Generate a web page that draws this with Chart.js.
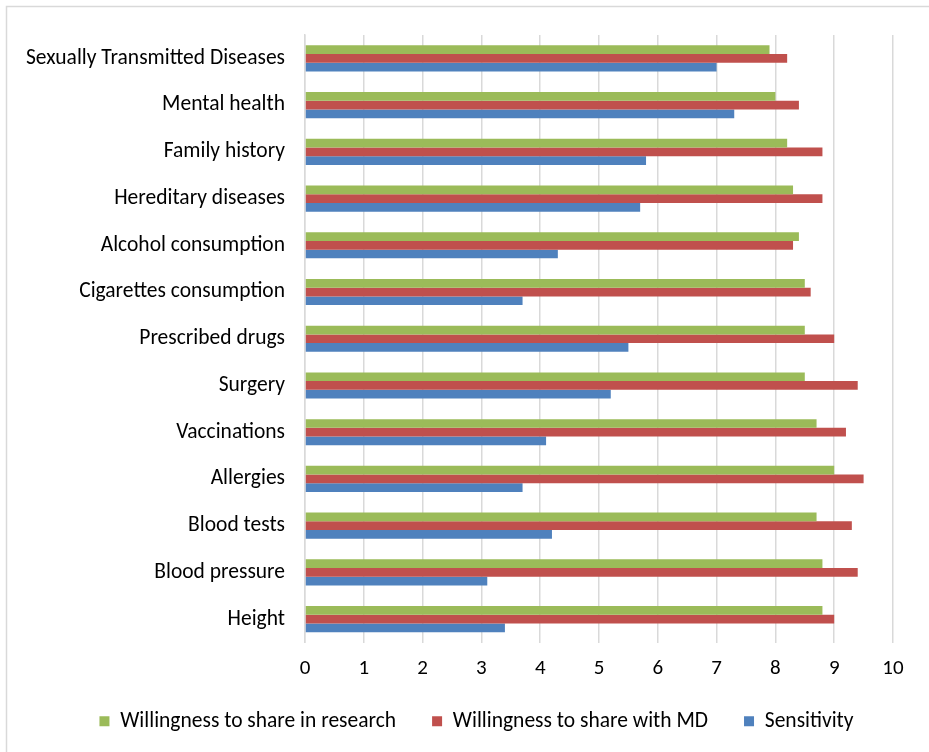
<!DOCTYPE html>
<html>
<head>
<meta charset="utf-8">
<script src="https://cdn.jsdelivr.net/npm/chart.js@4"></script>
<style>
html,body{margin:0;padding:0;background:#fff;}
#wrap{position:relative;width:929px;height:752px;}
</style>
</head>
<body>
<div id="wrap"><canvas id="c" width="929" height="752"></canvas></div>
<script>
const categories = ["Sexually Transmitted Diseases","Mental health","Family history","Hereditary diseases","Alcohol consumption","Cigarettes consumption","Prescribed drugs","Surgery","Vaccinations","Allergies","Blood tests","Blood pressure","Height"];
const research = [7.9,8.0,8.2,8.3,8.4,8.5,8.5,8.5,8.7,9.0,8.7,8.8,8.8];
const withMD = [8.2,8.4,8.8,8.8,8.3,8.6,9.0,9.4,9.2,9.5,9.3,9.4,9.0];
const sensitivity = [7.0,7.3,5.8,5.7,4.3,3.7,5.5,5.2,4.1,3.7,4.2,3.1,3.4];
const xTicks = [0,1,2,3,4,5,6,7,8,9,10];
const seriesNames = ["Willingness to share in research","Willingness to share with MD","Sensitivity"];

const FONT = "Carlito, Lato, 'Liberation Sans', sans-serif";
const FS = 21.5;

const borderPlugin = {
  id:'outerBorder',
  afterLayout(chart){
    if (chart.legend) { chart.legend.left += 30; chart.legend.right += 30; }
  },
  beforeDraw(chart){
    const ctx = chart.ctx;
    ctx.save();
    ctx.fillStyle='#fff';
    ctx.fillRect(0,0,chart.width,chart.height);
    ctx.strokeStyle='#d9d9d9';
    ctx.lineWidth=1.5;
    ctx.strokeRect(6.5,6.5,chart.width+20,chart.height+20);
    ctx.restore();
  }
};

new Chart(document.getElementById('c'),{
  type:'bar',
  data:{
    labels:categories,
    datasets:[
      {label:seriesNames[0],data:research,backgroundColor:'#9BBB59'},
      {label:seriesNames[1],data:withMD,backgroundColor:'#C0504D'},
      {label:seriesNames[2],data:sensitivity,backgroundColor:'#4F81BD'}
    ]
  },
  options:{
    indexAxis:'y',
    responsive:false,
    animation:false,
    devicePixelRatio:1,
    layout:{padding:{top:35,right:36,bottom:10,left:0}},
    datasets:{bar:{categoryPercentage:0.56,barPercentage:1.0,borderWidth:0}},
    scales:{
      x:{
        min:0,max:10,
        afterBuildTicks(s){ s.ticks = xTicks.map(v=>({value:v})); },
        grid:{color:'#d9d9d9',lineWidth:1.5,drawTicks:false},
        border:{display:false},
        ticks:{font:{family:FONT,size:21},color:'#000',padding:14},
        afterFit(s){ s.height = 32; }
      },
      y:{
        grid:{display:false,drawTicks:false},
        border:{display:true,color:'#d9d9d9',width:1.5},
        ticks:{font:{family:FONT,size:FS},color:'#000',padding:20},
        afterFit(s){ s.width = 305; }
      }
    },
    plugins:{
      legend:{
        position:'bottom',
        labels:{font:{family:FONT,size:FS},color:'#000',boxWidth:10,boxHeight:10,padding:36}
      },
      tooltip:{enabled:false}
    }
  },
  plugins:[borderPlugin]
});
</script>
</body>
</html>
